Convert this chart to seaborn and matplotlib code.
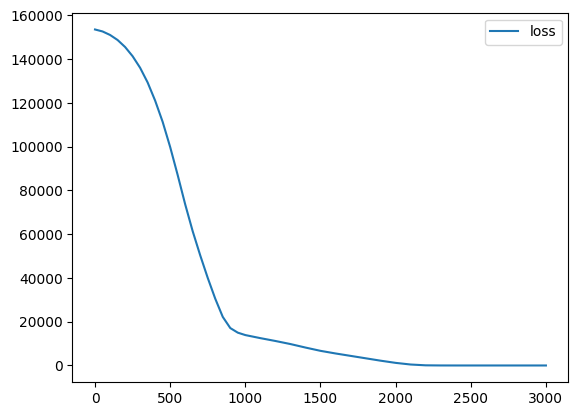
import matplotlib
matplotlib.use("Agg")
import matplotlib.pyplot as plt
import seaborn as sns

# loss values
epochs = [0, 50, 100, 150, 200, 250, 300, 350, 400, 450, 500, 550, 600,
          650, 700, 750, 800, 850, 900, 950, 1000, 1100, 1200, 1300, 1400,
          1500, 1600, 1700, 1800, 1900, 2000, 2100, 2200, 2300, 2400, 2500,
          2600, 2700, 2800, 2900, 3000]
loss = [153500, 152600, 151000, 148700, 145500, 141300, 136000, 129300,
        121000, 111300, 99800, 87000, 73600, 61300, 50300, 40000, 30500,
        22200, 17100, 15000, 13900, 12500, 11200, 9800, 8200, 6700, 5500,
        4400, 3300, 2200, 1200, 450, 80, 20, 10, 10, 10, 10, 10, 10, 10]

fig, ax = plt.subplots(figsize=(6.4, 4.8), dpi=100)

sns.lineplot(x=epochs, y=loss, label="loss", ax=ax)

ax.legend(loc="upper right")

fig.savefig("out.png", dpi=100, bbox_inches="tight")
